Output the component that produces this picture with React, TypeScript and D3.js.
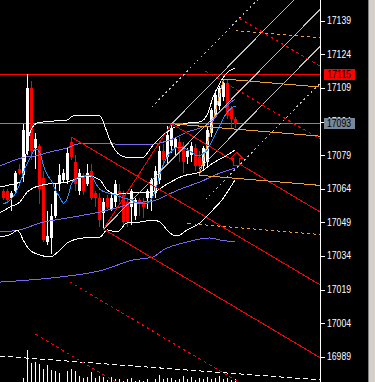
import React from 'react';
import * as d3 from 'd3';

const W = 375;
const H = 382;
const PLOT_R = 320;

// candles, one per bar (oldest first)
const open = [17063, 17063, 17060, 17063, 17073, 17070, 17081, 17109, 17082, 17083, 17069, 17040, 17042, 17052, 17066, 17068, 17068, 17085, 17076, 17063, 17070, 17066, 17072, 17062, 17060, 17053, 17060, 17055, 17058, 17063, 17061, 17058, 17056, 17052, 17059, 17058, 17060, 17060, 17062, 17068, 17081, 17078, 17083, 17082, 17085, 17083, 17078, 17079, 17082, 17078, 17074, 17076, 17089, 17097, 17101, 17105, 17111, 17100, 17095];
const high = [17064, 17064, 17063, 17072, 17075, 17093, 17115, 17112, 17089, 17084, 17072, 17054, 17057, 17066, 17075, 17073, 17082, 17087, 17079, 17073, 17071, 17075, 17075, 17063, 17062, 17060, 17061, 17062, 17068, 17066, 17063, 17060, 17064, 17060, 17060, 17060, 17064, 17069, 17074, 17083, 17084, 17092, 17093, 17087, 17087, 17085, 17082, 17085, 17084, 17081, 17083, 17092, 17100, 17108, 17110, 17113, 17113, 17101, 17096];
const low = [17059, 17058, 17054, 17062, 17070, 17067, 17079, 17077, 17073, 17057, 17040, 17039, 17035, 17051, 17063, 17067, 17066, 17077, 17063, 17061, 17061, 17065, 17059, 17056, 17047, 17046, 17055, 17054, 17056, 17058, 17047, 17047, 17048, 17050, 17052, 17051, 17055, 17054, 17060, 17066, 17074, 17075, 17080, 17078, 17076, 17071, 17075, 17076, 17072, 17070, 17073, 17074, 17087, 17096, 17099, 17103, 17095, 17091, 17091];
const close = [17060, 17059, 17062, 17071, 17071, 17090, 17109, 17081, 17086, 17064, 17041, 17043, 17052, 17063, 17070, 17071, 17080, 17078, 17066, 17071, 17063, 17071, 17060, 17060, 17050, 17058, 17056, 17060, 17066, 17061, 17049, 17049, 17063, 17059, 17057, 17056, 17063, 17068, 17072, 17081, 17077, 17088, 17091, 17086, 17081, 17076, 17081, 17083, 17074, 17074, 17082, 17090, 17099, 17106, 17109, 17111, 17097, 17095, 17093];
const volume = [1, 1, 1, 1, 1, 6, 34, 21, 22, 20, 15, 19, 14, 13, 11, 1, 13, 15, 13, 8, 6, 7, 12, 6, 8, 7, 4, 7, 5, 5, 3, 5, 6, 3, 4, 3, 5, 1, 5, 9, 5, 6, 6, 4, 5, 8, 5, 7, 4, 6, 5, 7, 5, 6, 8, 5, 6, 4, 5];

const priceTicks = [17139, 17124, 17109, 17094, 17079, 17064, 17049, 17034, 17019, 17004, 16989];
const lastPrice = 17093;
const highPrice = 17115;

// indicator lines, [bar, price]
const bandUpper = [[-0.9, 17064.8], [1.6, 17065.7], [4.1, 17067], [5.1, 17072.3], [6.1, 17085.7], [7.1, 17091.1], [8.4, 17093.3], [9.9, 17093.8], [15.9, 17094.7], [17.4, 17096.5], [24.1, 17096.5], [25.4, 17091.5], [26.6, 17085.7], [27.9, 17081.3], [30.4, 17078.1], [34.6, 17077.7], [37.4, 17083.5], [41.6, 17090.2], [45.9, 17093.3], [49.1, 17093.8], [51.1, 17097.8], [52.4, 17104.9], [53.6, 17109.4], [55.4, 17114.8], [57.9, 17117.9]];
const bandMiddle = [[-0.9, 17053.2], [1.6, 17055.8], [4.1, 17058.1], [5.9, 17062.5], [7.4, 17064.3], [9.9, 17065.7], [15.9, 17067], [20.9, 17069.7], [24.1, 17067.9], [25.9, 17063.4], [28.4, 17061.6], [32.4, 17062.1], [37.4, 17062.5], [40.9, 17066.1], [44.9, 17069.7], [49.1, 17071.4], [52.4, 17075.5], [55.9, 17079], [57.9, 17081.3]];
const bandLower = [[-0.9, 17042.4], [2.4, 17044.2], [3.4, 17045.6], [4.1, 17044.2], [4.9, 17041.1], [6.6, 17036.6], [9.1, 17034.4], [11.6, 17033.5], [14.1, 17036.6], [15.9, 17039.8], [19.9, 17042], [24.1, 17042.4], [25.9, 17045.6], [28.4, 17044.7], [30.9, 17048.7], [34.1, 17049.1], [37.4, 17050], [39.1, 17049.1], [41.6, 17044.2], [43.4, 17042.9], [45.9, 17045.6], [49.1, 17048.7], [51.6, 17053.2], [54.6, 17059], [57.1, 17065.7], [57.9, 17067.9]];
const maFast = [[0, 17057.2], [2, 17059.4], [4, 17065.7], [5, 17071.4], [6, 17075.5], [7, 17079], [8, 17081.7], [9, 17080.4], [10, 17074.1], [11, 17070.1], [12, 17067.4], [13, 17063.4], [14, 17060.3], [15, 17057.6], [16, 17059.9], [17, 17066.1], [18, 17068.3], [19, 17069.2], [20, 17069.2], [21, 17070.1], [22, 17069.7], [23, 17066.5], [24, 17063.9], [26, 17062.1], [28, 17061.2], [30, 17059.9], [32, 17059], [34, 17057.2], [36, 17057.6], [37, 17059.4], [38, 17063.4], [39, 17069.7], [40, 17075], [41, 17078.6], [42, 17080.8], [43, 17082.2], [44, 17082.6], [45, 17082.2], [46, 17081.3], [47, 17080.4], [48, 17079], [49, 17078.6], [50, 17079.9], [51, 17081.3], [52, 17084.8], [53, 17088.4], [54, 17092], [55, 17095.6], [56, 17098.2], [57, 17100], [58, 17100.9]];
const maMid = [[-0.9, 17074.1], [2.9, 17076.8], [5.4, 17078.1], [7.9, 17078.6], [11.6, 17080.4], [15.9, 17082.2], [18.4, 17083.9], [21.6, 17084.4], [29.1, 17083.9], [37.4, 17083.9], [39.9, 17084.8], [41.6, 17085.7], [45.9, 17089.3], [49.1, 17091.1], [51.6, 17093.3], [54.1, 17098.2], [56.6, 17102.2], [57.9, 17104]];
const maSlow = [[-0.9, 17044.7], [4.1, 17045.6], [9.1, 17048.7], [15.9, 17050.9], [24.1, 17053.6], [29.1, 17055.8], [32.4, 17057.6], [37.4, 17058.5], [40.9, 17061.2], [44.9, 17064.3], [49.1, 17067], [54.1, 17071], [57.9, 17073.2]];
const maLong = [[-0.9, 17022.3], [11.6, 17024.1], [24.9, 17027.7], [32.4, 17032.2], [37.4, 17033.5], [39.9, 17036.6], [45.9, 17040.2], [51.6, 17042], [54.1, 17041.1], [57.9, 17040.2]];

// drawn objects: pitchfork pivots [bar, price] (A, B, C)
const redFork = [[17, 17087], [25, 17046], [42, 17093]];
const orangeFork = [[42, 17093], [49, 17070], [55, 17113]];
// grey channel: base line through two points, parallels offset in points, each with its own start bar
const greyBase = [[25, 17046], [62, 17113]];
const greyOffsets = [32.6, 16.1, 0, -16.5, -33];
const greyStarts = [37, 42, 25, 49, 50.5];
const volTrend = [[-0.9, 16989.3], [79.4, 16978.6]];
const arrowAt = [58.3, 17080.2];

const RED = '#ff0000';
const ORANGE = '#f0a030';
const GREY = '#c0c0c0';

export default function App() {
  const x = d3.scaleLinear().domain([0, 1]).range([3.5, 7.5]);
  const y = d3.scaleLinear().domain([16989, 17139]).range([356.7, 20.7]);
  const vy = d3.scaleLinear().domain([0, 100]).range([384, 284]);

  const line = d3.line<number[]>().x(d => x(d[0])).y(d => y(d[1])).curve(d3.curveMonotoneX);
  const straight = d3.line<number[]>().x(d => d[0]).y(d => d[1]);

  const toPx = (d: number[]) => [x(d[0]), y(d[1])];

  // pitchfork: median from A, parallels from B and C, extra levels from the B-C line
  function fork(pts: number[][], color: string, extra: number[]) {
    const [A, B, C] = pts.map(toPx);
    const M = [(B[0] + C[0]) / 2, (B[1] + C[1]) / 2];
    const s = (M[1] - A[1]) / (M[0] - A[0]);
    const ray = (P: number[]) => [P, [PLOT_R, P[1] + s * (PLOT_R - P[0])]];
    const out: JSX.Element[] = [];
    [A, B, C].forEach((P, k) => out.push(<path key={'s' + k} d={straight(ray(P)) || ''} stroke={color} fill="none" />));
    out.push(<path key="bc" d={straight([B, C]) || ''} stroke={color} fill="none" />);
    extra.forEach(k => {
      const P = [M[0] + k * (C[0] - M[0]), M[1] + k * (C[1] - M[1])];
      out.push(<path key={'e' + k} d={straight(ray(P)) || ''} stroke={color} strokeDasharray="3,3" fill="none" />);
    });
    return out;
  }

  const [g1, g2] = greyBase.map(toPx);
  const gs = (g2[1] - g1[1]) / (g2[0] - g1[0]);
  const greyLines = greyOffsets.map((off, k) => {
    const dy = y(greyBase[0][1] + off) - y(greyBase[0][1]);
    const x0 = x(greyStarts[k]);
    const y0 = g1[1] + dy + gs * (x0 - g1[0]);
    const ye = y0 + gs * (PLOT_R - x0);
    const dotted = Math.abs(off) > 20;
    return <path key={'g' + k} d={straight([[x0, y0], [PLOT_R, ye]]) || ''} stroke={GREY} strokeDasharray={dotted ? '2,3' : undefined} fill="none" />;
  });

  const [ax, ay] = toPx(arrowAt);
  const arrow = `M${ax},${ay} L${ax + 6},${ay + 6} L${ax + 3},${ay + 6} L${ax + 3},${ay + 13} L${ax - 3},${ay + 13} L${ax - 3},${ay + 6} L${ax - 6},${ay + 6} Z`;

  const font = 'Liberation Sans, Arial, sans-serif';

  return (
    <svg width={W} height={H} style={{ position: 'absolute', left: 0, top: 0, background: '#000' }} shapeRendering="crispEdges">
      <defs>
        <clipPath id="plot"><rect x={0} y={0} width={PLOT_R} height={H} /></clipPath>
      </defs>
      <rect x={0} y={0} width={W} height={H} fill="#000" />
      <g clipPath="url(#plot)">
        {/* volumes */}
        {volume.map((v, i) => (
          <line key={'v' + i} x1={x(i)} x2={x(i)} y1={vy(v)} y2={H} stroke="#fff" />
        ))}
        <path d={line(volTrend) || ''} stroke="#fff" strokeDasharray="5,3" fill="none" />

        {/* horizontal price lines */}
        <line x1={0} x2={PLOT_R} y1={y(highPrice)} y2={y(highPrice)} stroke={RED} />
        <line x1={0} x2={PLOT_R} y1={y(lastPrice)} y2={y(lastPrice)} stroke="#778899" />

        {/* candles */}
        {open.map((o, i) => {
          const c = close[i];
          const up = c >= o;
          const col = up ? '#fff' : RED;
          const top = y(Math.max(o, c));
          const bot = y(Math.min(o, c));
          return (
            <g key={'c' + i}>
              <line x1={x(i)} x2={x(i)} y1={y(high[i])} y2={y(low[i])} stroke={col} />
              <rect x={x(i) - 1.5} y={top} width={3} height={Math.max(1, bot - top)} fill={col} />
            </g>
          );
        })}

        {/* indicators */}
        <g fill="none">
          <path d={line(maLong) || ''} stroke="#7b68ee" />
          <path d={line(maSlow) || ''} stroke="#7b68ee" />
          <path d={line(maMid) || ''} stroke="#7b68ee" />
          <path d={line(bandUpper) || ''} stroke="#fff" />
          <path d={line(bandMiddle) || ''} stroke="#fff" />
          <path d={line(bandLower) || ''} stroke="#fff" />
          <path d={line(maFast) || ''} stroke="#1e90ff" />
        </g>

        {/* objects */}
        <g>
          {greyLines}
          {fork(redFork, RED, [-3, -2, 2, 3])}
          {fork(orangeFork, ORANGE, [-2, 2])}
          <path d={arrow} fill="#000" stroke={RED} />
        </g>
      </g>

      {/* price axis */}
      <line x1={320.5} x2={320.5} y1={0} y2={H} stroke="#fff" />
      {priceTicks.map(t => (
        <g key={t}>
          <line x1={321} x2={325} y1={Math.round(y(t)) + 0.5} y2={Math.round(y(t)) + 0.5} stroke="#fff" />
          <text x={327} y={y(t)} dy="0.35em" fill="#fff" fontFamily={font} fontSize={10} textLength={24} lengthAdjust="spacingAndGlyphs">{t}</text>
        </g>
      ))}
      <rect x={324} y={y(highPrice) - 5.5} width={31} height={11} fill={RED} />
      <text x={327} y={y(highPrice)} dy="0.35em" fill="#000" fontFamily={font} fontSize={10} textLength={24} lengthAdjust="spacingAndGlyphs">{highPrice}</text>
      <rect x={324} y={y(lastPrice) - 5.5} width={31} height={11} fill="#778899" />
      <text x={327} y={y(lastPrice)} dy="0.35em" fill="#000" fontFamily={font} fontSize={10} textLength={24} lengthAdjust="spacingAndGlyphs">{lastPrice}</text>

      {/* window edge */}
      <rect x={368} y={0} width={7} height={H} fill="#d4d0c8" />
      <line x1={368.5} x2={368.5} y1={0} y2={H} stroke="#808080" />
    </svg>
  );
}
